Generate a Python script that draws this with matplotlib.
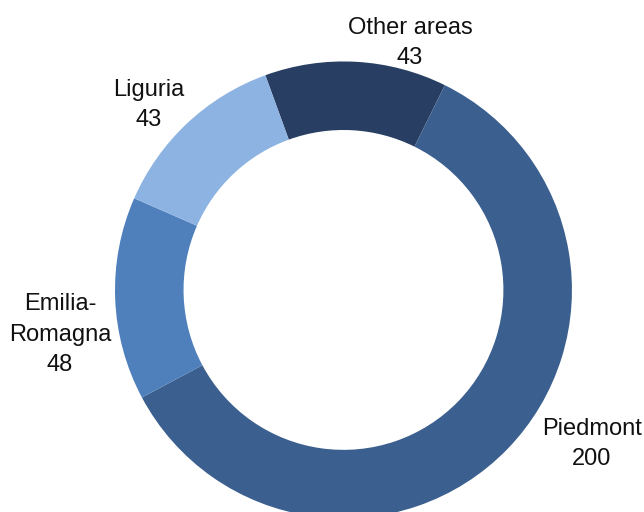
import matplotlib.pyplot as plt

# Regions and counts
regions = ['Other areas', 'Piedmont', 'Emilia-\nRomagna', 'Liguria']
counts = [43, 200, 48, 43]
colors = ['#283f63', '#3b5f8e', '#4f80bc', '#8db3e2']

# label anchor points (data units, ring radius = 1)
label_xy = [(0.291, 1.081), (1.088, -0.674), (-1.241, -0.197), (-0.851, 0.81)]

plt.rcParams['font.family'] = ['Liberation Sans', 'DejaVu Sans']

fig = plt.figure(figsize=(6.44, 5.12), dpi=100)
ax = fig.add_axes([0, 0, 1, 1])

wedges, _ = ax.pie(counts, colors=colors, startangle=110, counterclock=False,
                   radius=1.0, wedgeprops=dict(width=0.30, edgecolor='none'))

for name, val, (x, y) in zip(regions, counts, label_xy):
    ax.text(x, y, f'{name}\n{val}', ha='center', va='center', fontsize=17,
            color='#111111', linespacing=1.5)

ax.set_aspect('equal')
ax.set_xlim(-1.503, 1.315)
ax.set_ylim(-0.972, 1.269)
ax.axis('off')

fig.savefig('out.png', dpi=100)
